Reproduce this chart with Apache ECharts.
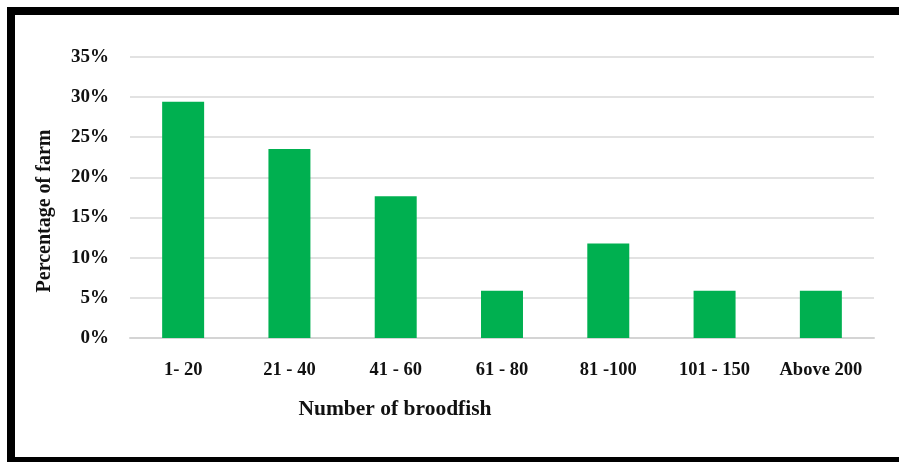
<!DOCTYPE html>
<html>
<head>
<meta charset="utf-8">
<script src="https://cdn.jsdelivr.net/npm/echarts@6/dist/echarts.min.js"></script>
<style>
  html, body { margin: 0; padding: 0; background: #fff; }
  #chart { width: 899px; height: 462px; }
</style>
</head>
<body>
<div id="chart"></div>
<script>
// Share of farms by broodfish stock size (17 farms surveyed)
const categories = ['1- 20', '21 - 40', '41 - 60', '61 - 80', '81 -100', '101 - 150', 'Above 200'];
const percentFarms = [29.41, 23.53, 17.65, 5.88, 11.76, 5.88, 5.88];
const yTicks = { min: 0, max: 35, step: 5 };
const xTitle = 'Number of broodfish';
const yTitle = 'Percentage of farm';

const serif = '"Liberation Serif", "Times New Roman", serif';
const chart = echarts.init(document.getElementById('chart'), null, { renderer: 'canvas' });

chart.setOption({
  animation: false,
  backgroundColor: '#ffffff',
  grid: { left: 130, right: 25, top: 56.7, bottom: 124, containLabel: false },
  xAxis: {
    type: 'category',
    data: categories,
    axisLine: { show: true, lineStyle: { color: '#d4d4d4', width: 2 } },
    axisTick: { show: false },
    axisLabel: {
      interval: 0,
      hideOverlap: false,
      color: '#111', fontFamily: serif, fontWeight: 'bold', fontSize: 18.5, margin: 23
    }
  },
  yAxis: {
    type: 'value',
    min: yTicks.min,
    max: yTicks.max,
    interval: yTicks.step,
    axisLine: { show: false },
    axisTick: { show: false },
    splitLine: { lineStyle: { color: '#d9d9d9', width: 1.5 } },
    axisLabel: {
      formatter: '{value}%',
      color: '#111', fontFamily: serif, fontWeight: 'bold', fontSize: 19, margin: 21
    }
  },
  series: [{
    type: 'bar',
    data: percentFarms,
    barWidth: '39.5%',
    itemStyle: { color: '#00b050' }
  }],
  graphic: [
    {
      type: 'rect',
      shape: { x: 11, y: 11, width: 900, height: 450 },
      style: { fill: 'none', stroke: '#000', lineWidth: 8 },
      silent: true
    },
    {
      type: 'text',
      x: 395, y: 409,
      style: {
        text: xTitle, fill: '#111', font: 'bold 21.5px ' + serif,
        textAlign: 'center', textVerticalAlign: 'middle'
      }
    },
    {
      type: 'text',
      x: 45, y: 211,
      rotation: Math.PI / 2,
      style: {
        text: yTitle, fill: '#111', font: 'bold 20px ' + serif,
        textAlign: 'center', textVerticalAlign: 'middle'
      }
    }
  ]
});
</script>
</body>
</html>
